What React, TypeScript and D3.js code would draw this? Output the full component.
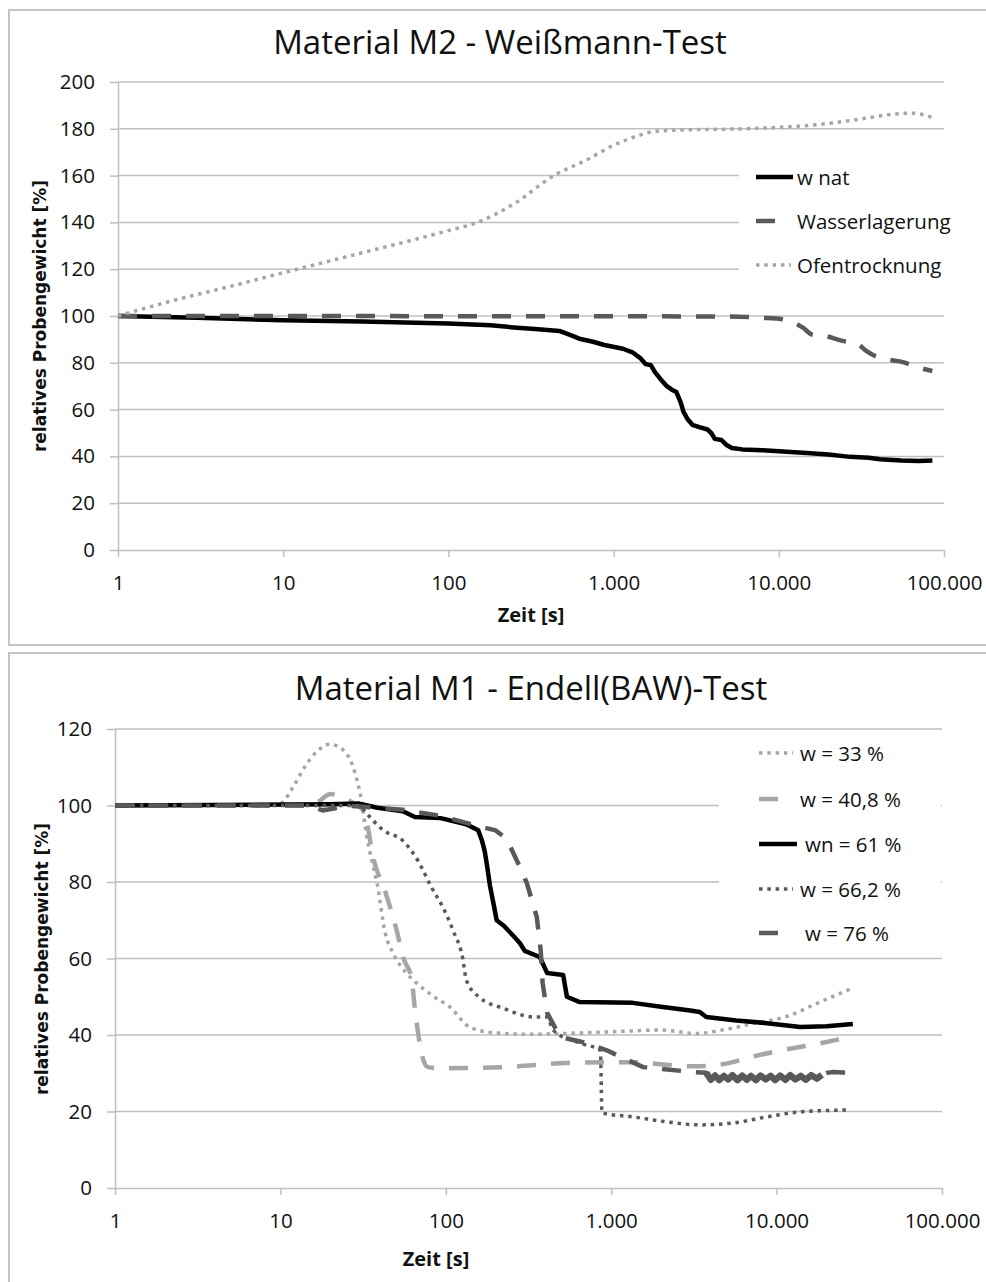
import { useEffect, useRef } from "react";
import * as d3 from "d3";

// x axis (log, both charts)
const xTicks = [1, 10, 100, 1000, 10000, 100000];
const xTickLabels = ["1", "10", "100", "1.000", "10.000", "100.000"];

// top chart: Material M2 - Weißmann-Test
const yTicksTop = [0, 20, 40, 60, 80, 100, 120, 140, 160, 180, 200];

const wNatTime = [1, 3, 10, 30, 100, 180, 260, 335, 470, 540, 620, 750, 880, 1140, 1300, 1450, 1560, 1680, 1780, 1950, 2100, 2250, 2400, 2550, 2650, 2800, 3000, 3300, 3700, 3900, 4100, 4500, 4800, 5200, 6000, 8000, 10000, 14000, 20000, 27000, 35000, 41000, 55000, 70000, 85000];
const wNatVal = [100, 99.2, 98.2, 97.6, 96.8, 96, 95, 94.4, 93.6, 92, 90.3, 89, 87.6, 86, 84.5, 82, 79.5, 79, 76, 72.5, 70, 68.5, 67.5, 63, 59, 56, 53.5, 52.5, 51.5, 50, 47.5, 47, 45, 43.6, 43, 42.6, 42.2, 41.6, 40.8, 39.8, 39.4, 38.8, 38.2, 38, 38.2];

const wasserTime = [1, 5000, 8000, 10000, 12000, 14000, 16000, 19000, 24000, 30000, 34000, 38000, 45000, 55000, 70000, 85000];
const wasserVal = [100, 99.8, 99.2, 98.8, 97.5, 95, 92, 91.5, 89.5, 88, 85, 83, 81.5, 80.5, 78, 76.5];

const ofenTime = [1, 2, 5, 10, 30, 100, 150, 250, 435, 700, 1000, 1400, 1800, 3000, 6000, 10000, 20000, 32000, 50000, 63000, 75000, 85000];
const ofenVal = [100, 106, 113, 118.5, 127, 136.5, 140, 148, 160, 167, 173, 177, 179, 179.6, 180, 180.6, 182.3, 184.3, 186.3, 186.7, 186, 184.8];

// bottom chart: Material M1 - Endell(BAW)-Test
const yTicksBottom = [0, 20, 40, 60, 80, 100, 120];

const w33Time = [1, 8, 10, 12, 14, 16.5, 19.9, 24, 28, 31, 33, 36, 38.4, 43, 48, 57, 66.5, 85, 106, 140, 204, 330, 515, 1240, 1970, 3300, 4700, 7400, 11600, 18000, 28600];
const w33Val = [100, 100, 100.5, 105, 110, 114, 116, 114.5, 109, 101, 92.8, 85, 79.7, 66.7, 61.4, 56.5, 53.6, 50, 47.3, 42, 40.5, 40.2, 40.4, 41, 41.3, 40.4, 41.3, 43.1, 44.9, 48.5, 52.2];

const w408Time = [1, 15, 17, 20, 24, 28, 32, 36.7, 43.4, 50, 56, 62, 65, 68, 72, 78, 93, 225, 540, 1290, 3100, 4800, 7400, 11000, 17700, 28600];
const w408Val = [100, 100, 101, 103, 102, 100.5, 98.5, 85.7, 77, 68, 59.6, 55, 47, 40.5, 34.5, 31.6, 31.3, 31.6, 32.7, 32.9, 31.8, 32.4, 34.5, 36.1, 37.7, 39.6];

const wn61Time = [1, 20, 30, 38.6, 55, 65, 93, 133, 157, 165, 172, 178, 185, 195, 203, 225, 255, 281, 300, 370, 410, 512, 540, 645, 1350, 2000, 3000, 3430, 3760, 5700, 8750, 13900, 20000, 28900];
const wn61Val = [100, 100.3, 100.5, 99.4, 98.5, 97, 96.7, 95.1, 93.5, 91, 88, 84, 79, 74, 70, 68.5, 66, 64, 62, 60.4, 56.2, 55.7, 50, 48.6, 48.4, 47.4, 46.4, 46, 44.7, 43.8, 43.1, 42.1, 42.3, 42.9];

const w662Time = [1, 30, 32.6, 42, 55, 68, 81, 98, 111, 127, 133, 157, 225, 345, 410, 445, 645, 860, 880, 1350, 2160, 3430, 5470, 8750, 13900, 27900];
const w662Val = [100, 100, 98.3, 93.5, 90.8, 85.5, 79, 72.6, 67.2, 59.7, 54.4, 50.1, 46.9, 44.7, 44.7, 41.3, 37.9, 36, 19.6, 18.6, 17.3, 16.5, 17, 18.6, 19.9, 20.4];

const w76Time = [1, 15, 18, 21, 25, 55, 93, 157, 200, 230, 250, 280, 309, 355, 375, 385, 410, 490, 710, 940, 1250, 1560, 3140, 3760, 4000, 4250, 4500, 4800, 5100, 5400, 5800, 6200, 6600, 7000, 7500, 8000, 8600, 9200, 9800, 10500, 11300, 12100, 13000, 14000, 15000, 16200, 17500, 18800, 20000, 22000, 25000, 28900];
const w76Val = [100, 100, 98.7, 99.2, 100, 98.9, 97.3, 94.6, 93.5, 91.5, 88.5, 84, 79.7, 70.8, 62, 53.6, 45.8, 39.5, 37.9, 36, 33.5, 31.6, 30.3, 30.1, 28.3, 29.4, 28.2, 29.3, 28.4, 29.5, 28.2, 29.4, 28.3, 29.3, 28.2, 29.4, 28.4, 29.3, 28.2, 29.4, 28.3, 29.5, 28.4, 29.3, 28.3, 29.5, 28.6, 29.6, 30.1, 30.3, 30.2, 30.3];
// noisy measuring range of w = 76 % where the dashes merge into a band
const w76NoisyRange = [3760, 18800];

const BLACK = "#000000";
const DARK = "#595959";
const LIGHT = "#a6a6a6";
const GRID = "#bfbfbf";
const TEXT = "#111";
const FONT = "'Open Sans', sans-serif";

const dashed = "19 15";
const dotted = "3.5 4.8";

function drawChart(svg, o) {
  const g = svg.append("g");

  g.append("rect")
    .attr("x", 9)
    .attr("y", o.panelTop)
    .attr("width", 990)
    .attr("height", o.panelHeight)
    .attr("fill", "#fff")
    .attr("stroke", "#c4c4c4")
    .attr("stroke-width", 2);

  const x = d3.scaleLog().domain([1, 100000]).range([o.left, o.right]);
  const y = d3.scaleLinear().domain([0, o.yMax]).range([o.bottom, o.top]);

  // gridlines
  g.selectAll(".grid")
    .data(o.yTicks.filter((d) => d > 0))
    .join("line")
    .attr("x1", o.left)
    .attr("x2", o.right)
    .attr("y1", (d) => y(d))
    .attr("y2", (d) => y(d))
    .attr("stroke", GRID)
    .attr("stroke-width", 1.5);

  // legend background hides the gridlines behind it
  g.append("rect")
    .attr("x", o.legend.boxX)
    .attr("y", o.legend.boxY)
    .attr("width", o.legend.boxW)
    .attr("height", o.legend.boxH)
    .attr("fill", "#fff");

  // axes
  const yAxis = d3.axisLeft(y).tickValues(o.yTicks).tickSize(8).tickSizeOuter(0).tickPadding(15);
  const yg = g.append("g").attr("transform", `translate(${o.left},0)`).call(yAxis);
  const xAxis = d3
    .axisBottom(x)
    .tickValues(xTicks)
    .tickFormat((d, i) => xTickLabels[i])
    .tickSize(7)
    .tickSizeOuter(0)
    .tickPadding(18);
  const xg = g.append("g").attr("transform", `translate(0,${o.bottom})`).call(xAxis);
  [yg, xg].forEach((ag) => {
    ag.select(".domain").attr("stroke", GRID).attr("stroke-width", 1.5);
    ag.selectAll(".tick line").attr("stroke", GRID).attr("stroke-width", 1.5);
    ag.selectAll(".tick text")
      .attr("fill", TEXT)
      .attr("font-family", FONT)
      .attr("font-size", 20.5);
  });

  // series
  o.series.forEach((s) => {
    const pts = s.t.map((t, i) => [t, s.v[i]]);
    const line = d3
      .line()
      .x((d) => x(d[0]))
      .y((d) => y(d[1]))
      .curve(s.curve);
    g.append("path")
      .attr("d", line(pts))
      .attr("fill", "none")
      .attr("stroke", s.color)
      .attr("stroke-width", s.width)
      .attr("stroke-linejoin", "round")
      .attr("stroke-dasharray", s.dash);
    if (s.noisy) {
      // dense data there: dashes run together into a solid band
      const seg = pts.filter((d) => d[0] >= s.noisy[0] && d[0] <= s.noisy[1]);
      g.append("path")
        .attr("d", line(seg))
        .attr("fill", "none")
        .attr("stroke", s.color)
        .attr("stroke-width", 6.5)
        .attr("stroke-linejoin", "round");
    }
  });

  // legend
  o.series.forEach((s, i) => {
    const ly = o.legend.y[i];
    g.append("line")
      .attr("x1", o.legend.lineX)
      .attr("x2", o.legend.lineX + s.legendLen)
      .attr("y1", ly)
      .attr("y2", ly)
      .attr("stroke", s.color)
      .attr("stroke-width", s.width)
      .attr("stroke-dasharray", s.dash);
    g.append("text")
      .attr("x", o.legend.textX + s.legendDx)
      .attr("y", ly)
      .attr("dominant-baseline", "central")
      .attr("font-family", FONT)
      .attr("font-size", 20.5)
      .attr("fill", TEXT)
      .text(s.label);
  });

  // titles
  g.append("text")
    .attr("x", o.titleX)
    .attr("y", o.titleY)
    .attr("text-anchor", "middle")
    .attr("font-family", FONT)
    .attr("font-size", 33)
    .attr("fill", TEXT)
    .text(o.title);

  g.append("text")
    .attr("transform", `translate(${o.yLabelX},${o.yLabelY}) rotate(-90)`)
    .attr("text-anchor", "middle")
    .attr("dominant-baseline", "central")
    .attr("font-family", "'DejaVu Sans', sans-serif")
    .attr("font-weight", "bold")
    .attr("font-size", 17)
    .attr("fill", TEXT)
    .text("relatives Probengewicht [%]");

  g.append("text")
    .attr("x", o.xLabelX)
    .attr("y", o.xLabelY)
    .attr("text-anchor", "middle")
    .attr("dominant-baseline", "central")
    .attr("font-family", FONT)
    .attr("font-weight", "bold")
    .attr("font-size", 20)
    .attr("fill", TEXT)
    .text("Zeit [s]");
}

const App = () => {
  const ref = useRef(null);

  useEffect(() => {
    const svg = d3.select(ref.current);
    svg.selectAll("*").remove();

    drawChart(svg, {
      panelTop: 10,
      panelHeight: 635,
      left: 118,
      right: 944,
      top: 82,
      bottom: 550,
      yMax: 200,
      yTicks: yTicksTop,
      title: "Material M2 - Weißmann-Test",
      titleX: 500,
      titleY: 54,
      yLabelX: 40,
      yLabelY: 316,
      xLabelX: 531,
      xLabelY: 614,
      legend: { boxX: 739, boxY: 150, boxW: 220, boxH: 140, lineX: 756, textX: 797, y: [177, 221, 265] },
      series: [
        { label: "w nat", t: wNatTime, v: wNatVal, color: BLACK, width: 4.5, dash: null, curve: d3.curveLinear, legendLen: 37, legendDx: 0 },
        { label: "Wasserlagerung", t: wasserTime, v: wasserVal, color: DARK, width: 4.5, dash: dashed, curve: d3.curveMonotoneX, legendLen: 19, legendDx: 0 },
        { label: "Ofentrocknung", t: ofenTime, v: ofenVal, color: LIGHT, width: 3.5, dash: dotted, curve: d3.curveMonotoneX, legendLen: 35, legendDx: 0 },
      ],
    });

    drawChart(svg, {
      panelTop: 653,
      panelHeight: 640,
      left: 115,
      right: 942,
      top: 729,
      bottom: 1188,
      yMax: 120,
      yTicks: yTicksBottom,
      title: "Material M1 - Endell(BAW)-Test",
      titleX: 531,
      titleY: 700,
      yLabelX: 42,
      yLabelY: 959,
      xLabelX: 436,
      xLabelY: 1258,
      legend: { boxX: 719, boxY: 735, boxW: 222, boxH: 215, lineX: 759, textX: 800, y: [753, 799, 844, 889, 933] },
      series: [
        { label: "w = 33 %", t: w33Time, v: w33Val, color: LIGHT, width: 3.5, dash: dotted, curve: d3.curveMonotoneX, legendLen: 34, legendDx: 0 },
        { label: "w = 40,8 %", t: w408Time, v: w408Val, color: LIGHT, width: 4.5, dash: dashed, curve: d3.curveMonotoneX, legendLen: 19, legendDx: 0 },
        { label: "wn = 61 %", t: wn61Time, v: wn61Val, color: BLACK, width: 4.5, dash: null, curve: d3.curveLinear, legendLen: 38, legendDx: 5 },
        { label: "w = 66,2 %", t: w662Time, v: w662Val, color: DARK, width: 3.5, dash: dotted, curve: d3.curveMonotoneX, legendLen: 34, legendDx: 0 },
        { label: "w = 76 %", t: w76Time, v: w76Val, color: DARK, width: 4.5, dash: dashed, curve: d3.curveLinear, legendLen: 19, legendDx: 5, noisy: w76NoisyRange },
      ],
    });
  }, []);

  return (
    <div style={{ position: "absolute", left: 0, top: 0 }}>
      <svg ref={ref} width={986} height={1282} style={{ display: "block", background: "#fff" }}></svg>
    </div>
  );
};

export default App;
